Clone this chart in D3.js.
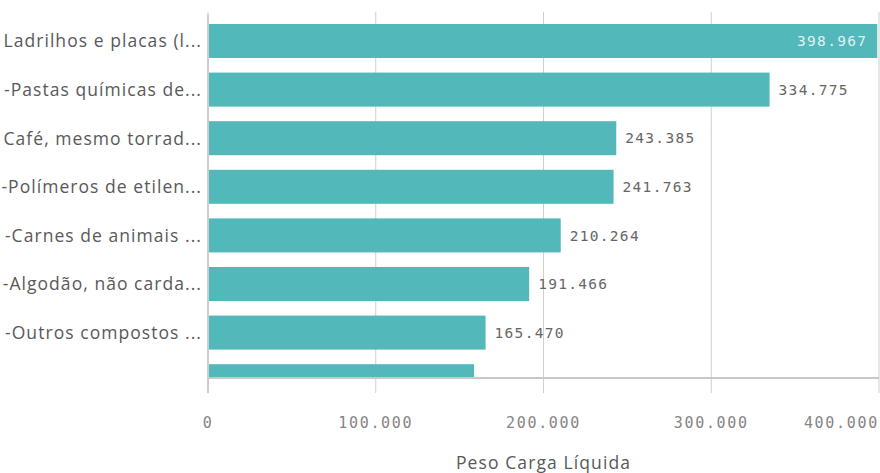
<!DOCTYPE html>
<html>
<head>
<meta charset="utf-8">
<script src="https://cdn.jsdelivr.net/npm/d3@7"></script>
<style>
  html, body { margin: 0; padding: 0; background: #fff; }
  svg { display: block; }
</style>
</head>
<body>
<svg id="chart" width="880" height="473"></svg>
<script>
// Products (truncated labels as shown in the list) and net cargo weight
const categories = [
  "Ladrilhos e placas (l...",
  "-Pastas químicas de...",
  "Café, mesmo torrad...",
  "-Polímeros de etilen...",
  "-Carnes de animais ...",
  "-Algodão, não carda...",
  "-Outros compostos ...",
  "-Outros"
];
const values = [398967, 334775, 243385, 241763, 210264, 191466, 165470, 158600];
const tickValues = [0, 100000, 200000, 300000, 400000];
const axisTitle = "Peso Carga Líquida";

const fmt = v => d3.format(",")(v).replace(/,/g, ".");

const svg = d3.select("#chart");
const plot = { left: 208, right: 879, top: 12, bottom: 378 };

const x = d3.scaleLinear().domain([0, 400000]).range([plot.left, plot.right]);
const y = d3.scaleBand()
  .domain(categories)
  .range([16.7, 405.5])
  .paddingInner(0.3)
  .paddingOuter(0.15);

const grey = "#cfcfcf";
const textFont = "'Open Sans', Lato, sans-serif";
const monoFont = "'DejaVu Sans Mono', monospace";

// vertical gridlines with short ticks below the axis
svg.append("g").selectAll("line").data(tickValues).join("line")
  .attr("x1", d => x(d)).attr("x2", d => x(d))
  .attr("y1", plot.top).attr("y2", 393)
  .attr("stroke", grey).attr("stroke-width", 1);

// clip region for the scrolled bar list
const defs = svg.append("defs");
defs.append("clipPath").attr("id", "plotClip")
  .append("rect")
  .attr("x", plot.left).attr("y", 0)
  .attr("width", plot.right - plot.left + 1).attr("height", plot.bottom);

const bars = svg.append("g").attr("clip-path", "url(#plotClip)");
bars.selectAll("rect").data(values).join("rect")
  .attr("x", x(0) + 1)
  .attr("y", (d, i) => y(categories[i]))
  .attr("width", d => x(d) - x(0) - 1)
  .attr("height", y.bandwidth())
  .attr("fill", "#52b8ba");

// value labels (inside the bar when it reaches the edge); rows scrolled
// past the bottom of the list get no label
const visible = (d, i) => y(categories[i]) + y.bandwidth() <= plot.bottom + 1;
bars.selectAll("text").data(values).join("text")
  .filter(visible)
  .each(function (d, i) {
    const inside = x(d) > plot.right - 80;
    d3.select(this)
      .attr("x", inside ? x(d) - 10 : x(d) + 9)
      .attr("text-anchor", inside ? "end" : "start")
      .attr("fill", inside ? "#dff3f3" : "#666")
      .attr("y", y(categories[i]) + y.bandwidth() / 2)
      .attr("dy", "0.36em")
      .attr("font-family", monoFont)
      .attr("font-size", 14.5)
      .attr("letter-spacing", 1.3)
      .text(fmt(d));
  });

// left axis line
svg.append("line")
  .attr("x1", plot.left).attr("x2", plot.left)
  .attr("y1", 15).attr("y2", 393)
  .attr("stroke", "#c4c4c4").attr("stroke-width", 1.5);

// bottom axis line
svg.append("line")
  .attr("x1", plot.left).attr("x2", plot.right)
  .attr("y1", plot.bottom).attr("y2", plot.bottom)
  .attr("stroke", "#c8c8c8").attr("stroke-width", 2);

// category labels, right-aligned against the axis
svg.append("g")
  .selectAll("text").data(categories).join("text")
  .filter((d, i) => y(d) + y.bandwidth() <= plot.bottom + 1)
  .attr("x", 202)
  .attr("y", d => y(d) + y.bandwidth() / 2)
  .attr("dy", "0.36em")
  .attr("text-anchor", "end")
  .attr("fill", "#595959")
  .attr("font-family", textFont)
  .attr("font-size", 17.5)
  .attr("letter-spacing", 1.05)
  .text(d => d);

// x tick labels
svg.append("g").selectAll("text").data(tickValues).join("text")
  .attr("x", (d, i) => i === tickValues.length - 1 ? plot.right : x(d))
  .attr("y", 423)
  .attr("dy", "0.36em")
  .attr("text-anchor", (d, i) => i === tickValues.length - 1 ? "end" : "middle")
  .attr("fill", "#858585")
  .attr("font-family", monoFont)
  .attr("font-size", 15)
  .attr("letter-spacing", 1.7)
  .text(d => fmt(d));

// axis title
svg.append("text")
  .attr("x", x(200000))
  .attr("y", 463)
  .attr("dy", "0.36em")
  .attr("text-anchor", "middle")
  .attr("fill", "#595959")
  .attr("font-family", textFont)
  .attr("font-size", 17.5)
  .attr("letter-spacing", 1.1)
  .text(axisTitle);
</script>
</body>
</html>
